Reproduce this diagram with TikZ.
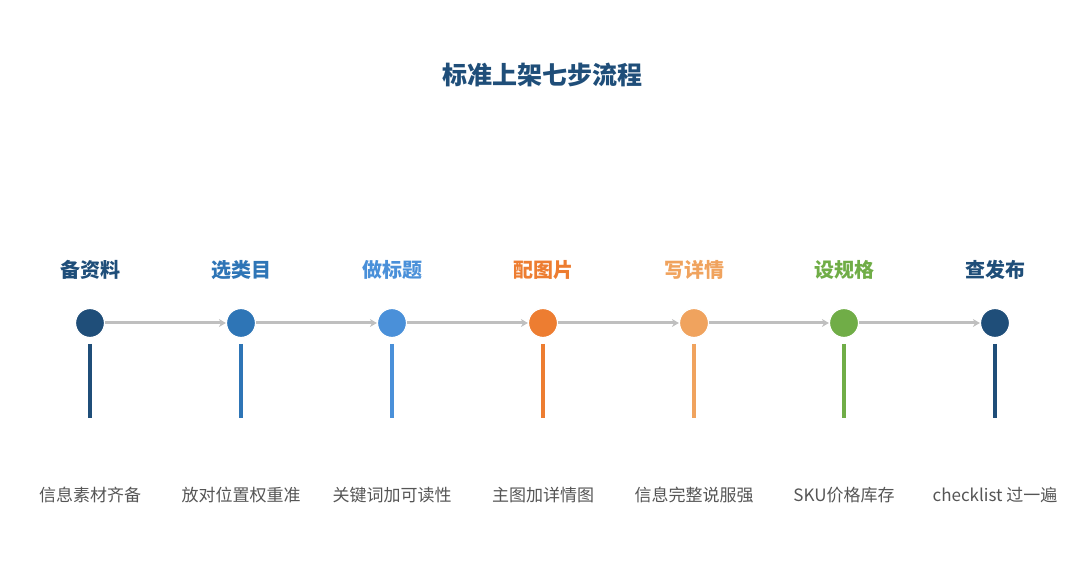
\documentclass[tikz,border=0pt]{standalone}
\usepackage{fontspec}
\setmainfont{Noto Sans CJK SC}
\usetikzlibrary{arrows.meta,positioning}
\definecolor{cA}{HTML}{1F4E79}
\definecolor{cB}{HTML}{2E75B6}
\definecolor{cC}{HTML}{4A90D9}
\definecolor{cD}{HTML}{ED7D31}
\definecolor{cE}{HTML}{F0A35E}
\definecolor{cF}{HTML}{70AD47}
\definecolor{cG}{HTML}{1F4E79}
\definecolor{txtgray}{HTML}{555555}
\tikzset{
  step dot/.style={circle, draw=white, line width=1.2pt, minimum size=29pt, inner sep=0pt},
  step name/.style={font=\fontsize{20}{24}\selectfont\bfseries},
  step note/.style={font=\fontsize{17}{20}\selectfont, text=txtgray},
  flow/.style={-{Stealth[length=7pt,width=8pt]}, line width=3pt, draw=black!25},
  stem/.style={line width=3.5pt}
}
\begin{document}
\begin{tikzpicture}[x=1pt,y=-1pt]
    \useasboundingbox (0,0) rectangle (1085,585);
    % title
    \node[font=\fontsize{25}{30}\selectfont\bfseries, text=cA] (title) at (542,75) {标准上架七步流程};

    % steps
    \foreach \i/\x/\c/\name/\note in {1/90/cA/备资料/信息素材齐备, 2/241/cB/选类目/放对位置权重准,
        3/392/cC/做标题/关键词加可读性, 4/543/cD/配图片/主图加详情图, 5/694/cE/写详情/信息完整说服强,
        6/844/cF/设规格/SKU价格库存, 7/995/cG/查发布/checklist 过一遍} {
      \node[step name, text=\c] (name\i) at (\x,270) {\name};
      \node[step dot, fill=\c] (dot\i) at (\x,323) {};
      \coordinate (top\i) at (\x,344);
      \coordinate (bot\i) at (\x,418);
      \draw[stem, draw=\c] (top\i) -- (bot\i);
      \node[step note] (note\i) at (\x,495) {\note};
    }

    % arrows
    \foreach \a/\b in {1/2,2/3,3/4,4/5,5/6,6/7}
      \draw[flow] (dot\a) -- (dot\b);
\end{tikzpicture}
\end{document}
